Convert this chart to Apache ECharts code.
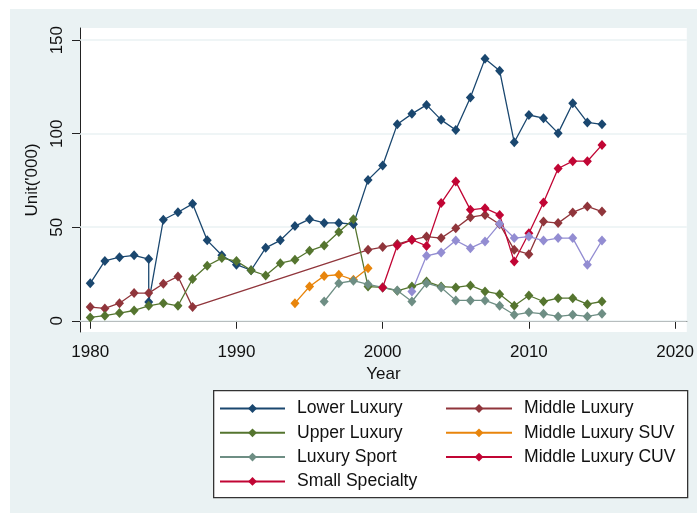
<!DOCTYPE html>
<html>
<head>
<meta charset="utf-8">
<script src="https://cdn.jsdelivr.net/npm/echarts@6/dist/echarts.min.js"></script>
<style>
html, body { margin: 0; padding: 0; background: #fff; }
#chart { position: absolute; left: 10px; top: 9px; width: 687px; height: 504px; }
</style>
</head>
<body>
<div id="chart"></div>
<script>
// tick labels
const xTicks = [1980, 1990, 2000, 2010, 2020];
const yTicks = [0, 50, 100, 150];

// series data (Unit '000)
const lowerLuxYears = [1980, 1981, 1982, 1983, 1984, 1984, 1985, 1986, 1987, 1988, 1989, 1990, 1991, 1992, 1993, 1994, 1995, 1996, 1997, 1998, 1999, 2000, 2001, 2002, 2003, 2004, 2005, 2006, 2007, 2008, 2009, 2010, 2011, 2012, 2013, 2014, 2015];
const lowerLux = [20, 32, 34, 35, 33, 10, 54, 58, 62.5, 43, 35, 30, 27, 39, 43, 50.6, 54.3, 52.3, 52.3, 51.6, 75.3, 83, 105, 110.6, 115.4, 107.4, 102, 119.3, 140, 133.7, 95.4, 110, 108.3, 100.3, 116.3, 106, 105];

const middleLuxYears = [1980, 1981, 1982, 1983, 1984, 1985, 1986, 1987, 1999, 2000, 2001, 2002, 2003, 2004, 2005, 2006, 2007, 2008, 2009, 2010, 2011, 2012, 2013, 2014, 2015];
const middleLux = [7.3, 6.6, 9.4, 14.8, 14.8, 19.8, 23.7, 7.3, 37.9, 39.4, 41, 43.3, 45, 44.2, 49.5, 55.4, 56.6, 51.6, 37.9, 35.6, 53, 52.2, 57.9, 61.1, 58.4];

const upperLuxYears = [1980, 1981, 1982, 1983, 1984, 1985, 1986, 1987, 1988, 1989, 1990, 1991, 1992, 1993, 1994, 1995, 1996, 1997, 1998, 1999, 2000, 2001, 2002, 2003, 2004, 2005, 2006, 2007, 2008, 2009, 2010, 2011, 2012, 2013, 2014, 2015];
const upperLux = [1.8, 2.7, 4.1, 5.5, 8, 9.4, 8, 22.3, 29.4, 33.5, 31.9, 27, 24.2, 30.8, 32.6, 37.4, 40.2, 47.5, 54.3, 18.3, 17.8, 16, 18.3, 21, 18.3, 17.8, 18.9, 15.7, 14.2, 8, 13.5, 10.3, 12.1, 12.1, 8.9, 10.3];

const midSuvYears = [1994, 1995, 1996, 1997, 1998, 1999];
const midSuv = [9.4, 18.3, 24, 24.6, 21.9, 28.1];

const sportYears = [1996, 1997, 1998, 1999, 2000, 2001, 2002, 2003, 2004, 2005, 2006, 2007, 2008, 2009, 2010, 2011, 2012, 2013, 2014, 2015];
const sport = [10.3, 20.1, 21.4, 19.5, 17.8, 16.2, 10.3, 20.1, 17.8, 10.9, 10.9, 10.9, 8, 3.2, 4.5, 3.7, 2.3, 3.2, 2.3, 3.7];

const midCuvYears = [2000, 2001, 2002, 2003, 2004, 2005, 2006, 2007, 2008, 2009, 2010, 2011, 2012, 2013, 2014, 2015];
const midCuv = [17.8, 40.2, 43.3, 40, 62.9, 74.4, 59.3, 60.2, 56.6, 31.7, 46.8, 63.2, 81.4, 85.3, 85.3, 94];

const smallSpecYears = [2002, 2003, 2004, 2005, 2006, 2007, 2008, 2009, 2010, 2011, 2012, 2013, 2014, 2015];
const smallSpec = [15.7, 34.7, 36.5, 42.9, 38.8, 42.4, 51.8, 44.2, 45, 42.9, 44.2, 44.2, 29.9, 42.9];

const font = 'Liberation Sans, Arial, sans-serif';

function pairs(xs, ys) {
    return xs.map((x, i) => [x, ys[i]]);
}

function lineSeries(name, color, xs, ys) {
    return {
        name: name,
        type: 'line',
        symbol: 'diamond',
        symbolSize: [9, 10],
        showAllSymbol: true,
        z: 3,
        itemStyle: { color: color },
        lineStyle: { color: color, width: 1.3 },
        data: pairs(xs, ys)
    };
}

let myChart = echarts.init(document.getElementById('chart'));

const legendText = { color: '#111', fontSize: 17.6, fontFamily: font, lineHeight: 17, padding: [0, 0, 0, 7] };

myChart.setOption({
    animation: false,
    backgroundColor: '#eaf2f3',
    grid: {
        left: 70, top: 19, right: 4, bottom: 181,
        show: true, backgroundColor: '#fff', borderWidth: 0
    },
    graphic: [{
        type: 'rect',
        left: 203, top: 381,
        shape: { width: 474, height: 107 },
        style: { fill: '#fff', stroke: '#333', lineWidth: 1.3 },
        z: 0
    }],
    legend: [{
        orient: 'vertical',
        left: 204, top: 385.5,
        itemWidth: 65, itemHeight: 11, itemGap: 6.3,
        textStyle: legendText,
        data: ['Lower Luxury', 'Upper Luxury', 'Luxury Sport',
            { name: 'Small Specialty', itemStyle: { color: '#c10534' }, lineStyle: { color: '#c10534' } }]
    }, {
        orient: 'vertical',
        left: 430, top: 385.5,
        itemWidth: 66, itemHeight: 11, itemGap: 6.3,
        textStyle: legendText,
        data: ['Middle Luxury', 'Middle Luxury SUV', 'Middle Luxury CUV']
    }],
    xAxis: {
        type: 'value',
        min: 1979.3, max: 2020.8,
        name: 'Year',
        nameLocation: 'middle',
        nameGap: 21,
        nameTextStyle: { color: '#111', fontSize: 17, fontFamily: font },
        axisLine: { lineStyle: { color: '#222', width: 1 } },
        axisTick: { length: 8, customValues: xTicks, lineStyle: { color: '#222' } },
        axisLabel: {
            customValues: xTicks, color: '#111', fontSize: 17, fontFamily: font, margin: 12,
            formatter: v => String(v)
        },
        splitLine: { show: false }
    },
    yAxis: {
        type: 'value',
        min: -6, max: 156.5,
        name: "Unit('000)",
        nameLocation: 'middle',
        nameGap: 33,
        nameTextStyle: { color: '#111', fontSize: 17, fontFamily: font },
        axisLine: { show: true, lineStyle: { color: '#222', width: 1 } },
        axisTick: { show: true, length: 8, customValues: yTicks, lineStyle: { color: '#222' } },
        axisLabel: { customValues: yTicks, rotate: 90, color: '#111', fontSize: 17, fontFamily: font, margin: 14 },
        splitLine: { show: false }
    },
    series: [
        {
            name: 'grid',
            type: 'line',
            data: [],
            z: 1,
            silent: true,
            markLine: {
                silent: true,
                z: 1,
                symbol: 'none',
                label: { show: false },
                lineStyle: { color: '#eaf2f3', type: 'solid', width: 1.5 },
                data: yTicks.map(v => ({ yAxis: v }))
            }
        },
        lineSeries('Lower Luxury', '#1a476f', lowerLuxYears, lowerLux),
        lineSeries('Middle Luxury', '#90353b', middleLuxYears, middleLux),
        lineSeries('Upper Luxury', '#55752f', upperLuxYears, upperLux),
        lineSeries('Middle Luxury SUV', '#e8850c', midSuvYears, midSuv),
        lineSeries('Luxury Sport', '#6e8e84', sportYears, sport),
        lineSeries('Middle Luxury CUV', '#c10534', midCuvYears, midCuv),
        lineSeries('Small Specialty', '#938dd2', smallSpecYears, smallSpec)
    ]
});

window.addEventListener("resize", function () {
    myChart.resize();
});
</script>
</body>
</html>
